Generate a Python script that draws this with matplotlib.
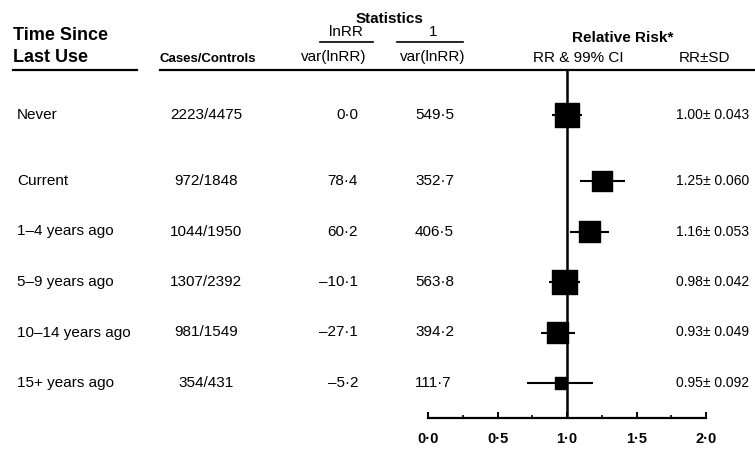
import matplotlib
matplotlib.use("Agg")
import matplotlib.pyplot as plt
from matplotlib.lines import Line2D
from matplotlib.transforms import blended_transform_factory

plt.rcParams['font.family'] = ['Liberation Sans', 'DejaVu Sans']

# data
periods = ["Never", "Current", "1\u20134 years ago", "5\u20139 years ago",
           "10\u201314 years ago", "15+ years ago"]
cases_controls = ["2223/4475", "972/1848", "1044/1950", "1307/2392", "981/1549", "354/431"]
lnrr_over_var = [0.0, 78.4, 60.2, -10.1, -27.1, -5.2]
inv_var = [549.5, 352.7, 406.5, 563.8, 394.2, 111.7]
rr = [1.00, 1.25, 1.16, 0.98, 0.93, 0.95]
sd = [0.043, 0.060, 0.053, 0.042, 0.049, 0.092]
ci_lo = [0.89, 1.09, 1.02, 0.87, 0.81, 0.71]
ci_hi = [1.11, 1.42, 1.30, 1.09, 1.06, 1.19]
ticks = [0.0, 0.5, 1.0, 1.5, 2.0]

# layout (row positions, one unit = 50 px)
row_y = [0, 1.32, 2.33, 3.34, 4.35, 5.36]
W, H = 755, 455
fs = 11

def fx(x):
    return x / W

def fy(y):
    return 1 - y / H

def dot(v):
    # printed style: middle dot decimals, en-dash minus
    return f"{v:.1f}".replace('.', '\u00b7').replace('-', '\u2013')

fig = plt.figure(figsize=(7.55, 4.55), dpi=100)
ax = fig.add_axes([fx(428), 0, fx(706) - fx(428), 1])
ax.set_xlim(0, 2)
ax.set_ylim(6.8, -2.3)
ax.patch.set_visible(False)
for s in ['top', 'left', 'right']:
    ax.spines[s].set_visible(False)
base = 6.06
ax.spines['bottom'].set_position(('data', base))
ax.spines['bottom'].set_linewidth(1.6)
ax.set_yticks([])
ax.set_xticks(ticks)
ax.set_xticks([0.25, 0.75, 1.25, 1.75], minor=True)
ax.set_xticklabels([f"{t:.1f}".replace('.', '\u00b7') for t in ticks],
                   fontweight='bold', fontsize=10.5)
ax.tick_params(axis='x', which='major', direction='in', length=4, width=1.4, pad=10)
ax.tick_params(axis='x', which='minor', direction='in', length=2, width=1.2)

# reference line and CIs / squares
ax.vlines(1.0, -0.9, base, color='black', lw=1.8)
ax.hlines(row_y, ci_lo, ci_hi, color='black', lw=1.5)
ax.scatter(rr, row_y, s=[w * 0.57 for w in inv_var], marker='s', color='black', zorder=3)

# text columns
tr = blended_transform_factory(fig.transFigure, ax.transData)
for i, y in enumerate(row_y):
    ax.text(fx(17), y, periods[i], transform=tr, ha='left', va='center', fontsize=fs)
    ax.text(fx(206), y, cases_controls[i], transform=tr, ha='center', va='center', fontsize=fs)
    ax.text(fx(358), y, dot(lnrr_over_var[i]), transform=tr, ha='right', va='center', fontsize=fs)
    ax.text(fx(415), y, dot(inv_var[i]), transform=tr, ha='left', va='center', fontsize=fs)
    ax.text(fx(676), y, f"{rr[i]:.2f}\u00b1 {sd[i]:.3f}", transform=tr,
            ha='left', va='center', fontsize=10)

# headers
fig.text(fx(13), fy(36), "Time Since", ha='left', va='center', fontsize=13, fontweight='bold')
fig.text(fx(13), fy(58), "Last Use", ha='left', va='center', fontsize=13, fontweight='bold')
fig.text(fx(208), fy(59), "Cases/Controls", ha='center', va='center', fontsize=9.5, fontweight='bold')
fig.text(fx(390), fy(19), "Statistics", ha='center', va='center', fontsize=11, fontweight='bold')
fig.text(fx(346), fy(32), "lnRR", ha='center', va='center', fontsize=fs)
fig.text(fx(334), fy(57), "var(lnRR)", ha='center', va='center', fontsize=fs)
fig.text(fx(433), fy(32), "1", ha='center', va='center', fontsize=fs)
fig.text(fx(433), fy(57), "var(lnRR)", ha='center', va='center', fontsize=fs)
fig.text(fx(623), fy(38), "Relative Risk*", ha='center', va='center', fontsize=11, fontweight='bold')
fig.text(fx(578), fy(58), "RR & 99% CI", ha='center', va='center', fontsize=fs)
fig.text(fx(705), fy(58), "RR\u00b1SD", ha='center', va='center', fontsize=fs)

# rules under the headers
for x0, x1, y, lw in [(13, 137, 70, 1.6), (160, 755, 70, 1.6),
                      (320, 373, 42, 1.2), (397, 463, 42, 1.2)]:
    fig.add_artist(Line2D([fx(x0), fx(x1)], [fy(y), fy(y)], color='black', lw=lw))

fig.savefig("out.png", dpi=100)
